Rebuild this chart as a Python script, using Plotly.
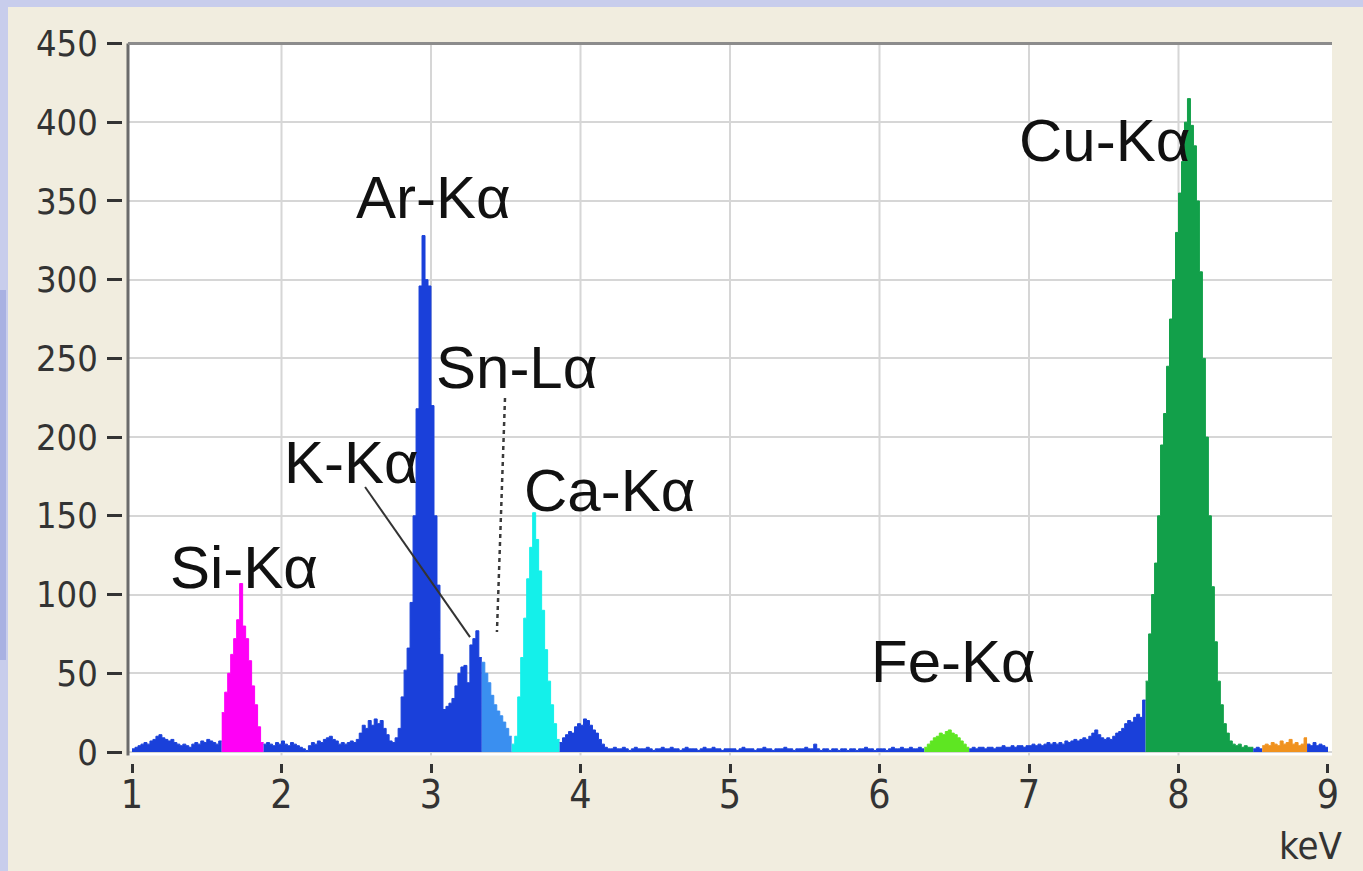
import plotly.graph_objects as go

# ---- spectrum: counts per 0.02 keV channel, starting at 1.00 keV ----
CHANNEL_START_KEV = 1.00
CHANNEL_WIDTH_KEV = 0.02

counts_1kev = [2, 3, 4, 5, 6, 5, 7, 8, 10, 11,
               9, 8, 7, 8, 6, 5, 4, 5, 4, 3,
               5, 6, 5, 7, 6, 8, 7, 6, 5, 7,
               25, 38, 50, 62, 72, 84, 107, 80, 72, 58,
               42, 30, 16, 6, 5, 6, 5, 4, 6, 5]
counts_2kev = [7, 5, 4, 6, 5, 4, 3, 2, 1, 4,
               6, 5, 7, 6, 8, 9, 10, 8, 7, 5,
               6, 5, 6, 7, 6, 8, 12, 17, 15, 20,
               17, 21, 18, 20, 15, 11, 7, 6, 9, 15,
               35, 52, 66, 95, 150, 218, 296, 328, 300, 296]
counts_3kev = [220, 150, 106, 62, 27, 29, 31, 34, 42, 50,
               54, 55, 44, 68, 72, 77, 60, 57, 50, 44,
               36, 30, 26, 23, 19, 15, 10, 5, 10, 35,
               60, 85, 110, 130, 152, 135, 115, 90, 65, 45,
               30, 18, 8, 6, 9, 11, 13, 12, 16, 18]
counts_4kev = [17, 21, 20, 17, 14, 12, 8, 5, 3, 2,
               2, 3, 2, 2, 3, 2, 1, 2, 3, 2,
               2, 2, 3, 2, 1, 2, 2, 3, 2, 2,
               3, 2, 2, 1, 2, 3, 2, 2, 2, 1,
               2, 3, 2, 2, 3, 2, 2, 1, 2, 2]
counts_5kev = [2, 2, 1, 2, 3, 2, 2, 2, 1, 2,
               2, 3, 2, 2, 1, 2, 2, 2, 3, 2,
               2, 1, 2, 2, 2, 3, 2, 2, 5, 2,
               1, 2, 2, 1, 2, 2, 1, 2, 2, 1,
               2, 2, 1, 2, 2, 3, 2, 2, 1, 2]
counts_6kev = [2, 2, 1, 2, 3, 2, 2, 3, 2, 2,
               3, 2, 2, 3, 2, 3, 5, 7, 9, 10,
               12, 11, 13, 14, 12, 11, 9, 7, 5, 3,
               2, 3, 2, 3, 3, 2, 3, 3, 2, 3,
               3, 4, 3, 3, 4, 3, 4, 4, 3, 4]
counts_7kev = [4, 5, 4, 5, 4, 5, 6, 5, 6, 5,
               6, 5, 7, 6, 7, 8, 7, 8, 9, 8,
               10, 12, 14, 11, 9, 8, 9, 8, 10, 12,
               13, 15, 18, 20, 19, 22, 24, 22, 33, 45,
               75, 100, 120, 150, 195, 215, 245, 275, 300, 330]
counts_8kev = [355, 375, 400, 415, 398, 385, 350, 305, 250, 200,
               150, 105, 70, 45, 30, 18, 12, 7, 5, 4,
               5, 3, 4, 3, 3, 2, 3, 2, 4, 5,
               4, 6, 5, 4, 7, 5, 6, 8, 5, 6,
               4, 5, 9, 5, 4, 6, 4, 5, 4, 3]

counts = (counts_1kev + counts_2kev + counts_3kev + counts_4kev
          + counts_5kev + counts_6kev + counts_7kev + counts_8kev)

# energy windows highlighted per element (start keV, end keV, key)
windows = [(1.00, 1.60, "bg"), (1.60, 1.88, "Si"), (1.88, 3.34, "bg"),
           (3.34, 3.54, "Sn"), (3.54, 3.86, "Ca"), (3.86, 6.30, "bg"),
           (6.30, 6.60, "Fe"), (6.60, 7.78, "bg"), (7.78, 8.50, "Cu"),
           (8.50, 8.56, "bg"), (8.56, 8.86, "esc"), (8.86, 9.00, "bg")]

# peak labels: text, keV, counts
peak_labels = [("Ar-Kα", 3.020, 352.5), ("Sn-Lα", 3.569, 244.5),
               ("K-Kα", 2.465, 183.6), ("Ca-Kα", 4.191, 165.8),
               ("Si-Kα", 1.749, 117.5), ("Fe-Kα", 6.498, 57.2),
               ("Cu-Kα", 7.508, 388.7)]

x_ticks = [1, 2, 3, 4, 5, 6, 7, 8, 9]
y_ticks = [0, 50, 100, 150, 200, 250, 300, 350, 400, 450]

colors = {"bg": "#1a40da", "Si": "#ff00f6", "Sn": "#3a8ff0",
          "Ca": "#14f0ea", "Fe": "#5ee622", "Cu": "#12a04a",
          "esc": "#f0921f"}

W, H = 1363, 871
X_RANGE = [0.9732, 9.0268]
fig = go.Figure()

for e0, e1, key in windows:
    i0 = round((e0 - CHANNEL_START_KEV) / CHANNEL_WIDTH_KEV)
    i1 = round((e1 - CHANNEL_START_KEV) / CHANNEL_WIDTH_KEV)
    xs = [CHANNEL_START_KEV + CHANNEL_WIDTH_KEV * i for i in range(i0, i1 + 1)]
    ys = counts[i0:i1] + [counts[i1 - 1]]
    fig.add_trace(go.Scatter(
        x=xs, y=ys, mode="lines", line_shape="hv",
        line=dict(color=colors[key], width=1),
        fill="tozeroy", fillcolor=colors[key],
        hoverinfo="skip", showlegend=False))

# empty trace that keeps the label-only axis alive
fig.add_trace(go.Scatter(x=[], y=[], xaxis="x2", yaxis="y",
                         showlegend=False, hoverinfo="skip"))

# plot-area geometry in pixels
left_px, right_px, top_px, bottom_px = 128, 1332, 43.5, 755.5
font_family = "Liberation Sans Narrow, DejaVu Sans Condensed, Liberation Sans, Arial"
y_tick_font = dict(family=font_family, size=36, color="#333333")
x_tick_font = dict(family=font_family, size=39, color="#333333")

fig.update_layout(
    width=W, height=H,
    margin=dict(l=0, r=0, t=0, b=0, pad=0, autoexpand=False),
    paper_bgcolor="#f1eddf",
    plot_bgcolor="#ffffff",
    showlegend=False,
    # tick marks, set a little below the plot area
    xaxis=dict(
        domain=[left_px / W, right_px / W], range=X_RANGE,
        anchor="free", position=(H - 763) / H, automargin=False,
        tickvals=x_ticks, showticklabels=False,
        ticks="outside", ticklen=9, tickwidth=3, tickcolor="#333333",
        showgrid=False, zeroline=False, showline=False,
    ),
    # tick labels only
    xaxis2=dict(
        domain=[left_px / W, right_px / W], range=X_RANGE,
        overlaying="x", anchor="free", position=(H - 768) / H,
        automargin=False,
        tickvals=x_ticks, ticktext=[str(v) for v in x_ticks],
        ticks="", tickfont=x_tick_font,
        showgrid=False, zeroline=False, showline=False,
    ),
    yaxis=dict(
        domain=[(H - bottom_px) / H, (H - top_px) / H],
        range=[-2.22, 450],
        anchor="free", position=122 / W, automargin=False,
        tickvals=y_ticks, ticktext=[str(v) for v in y_ticks],
        ticks="outside", ticklen=15, tickwidth=3, tickcolor="#333333",
        tickfont=y_tick_font, ticklabelstandoff=2,
        showgrid=True, gridcolor="#d6d6d6", gridwidth=2,
        zeroline=False, showline=False,
    ),
)

shapes = []
# lavender slide margins
shapes.append(dict(type="rect", xref="paper", yref="paper", x0=0, x1=1,
                   y0=(H - 7) / H, y1=1, fillcolor="#c8cdec", line_width=0,
                   layer="below"))
shapes.append(dict(type="rect", xref="paper", yref="paper", x0=0, x1=8 / W,
                   y0=0, y1=1, fillcolor="#c8cdec", line_width=0,
                   layer="below"))
shapes.append(dict(type="rect", xref="paper", yref="paper", x0=0, x1=6 / W,
                   y0=(H - 660) / H, y1=(H - 290) / H, fillcolor="#a9b1e2",
                   line_width=0, layer="below"))
# vertical grid lines
for v in x_ticks[1:-1]:
    shapes.append(dict(type="line", xref="x", yref="y domain", x0=v, x1=v,
                       y0=0, y1=1, line=dict(color="#d6d6d6", width=2),
                       layer="below"))
# frame: left axis and top border
shapes.append(dict(type="line", xref="paper", yref="paper",
                   x0=left_px / W, x1=left_px / W,
                   y0=(H - bottom_px) / H, y1=(H - top_px) / H,
                   line=dict(color="#6b6b6b", width=3)))
shapes.append(dict(type="line", xref="paper", yref="paper",
                   x0=left_px / W, x1=right_px / W,
                   y0=(H - top_px) / H, y1=(H - top_px) / H,
                   line=dict(color="#8c8c8c", width=3)))
# leader lines for K-Kα and Sn-Lα
shapes.append(dict(type="line", xref="x", yref="y", x0=2.559, y0=168.3,
                   x1=3.261, y1=73.0, line=dict(color="#333333", width=2)))
shapes.append(dict(type="line", xref="x", yref="y", x0=3.495, y0=224.8,
                   x1=3.441, y1=76.2,
                   line=dict(color="#3a3a3a", width=2.5, dash="4px,4px")))
fig.update_layout(shapes=shapes)

for text, kev, cnt in peak_labels:
    fig.add_annotation(x=kev, y=cnt, xref="x", yref="y", text=text,
                       showarrow=False, xanchor="center", yanchor="middle",
                       font=dict(family="Liberation Sans, Arial", size=60,
                                 color="#111111"))

fig.add_annotation(x=1310 / W, y=(H - 869) / H, xref="paper", yref="paper",
                   text="keV", showarrow=False, xanchor="center",
                   yanchor="bottom", borderpad=0,
                   font=dict(family=font_family, size=38, color="#333333"))

fig.write_html("out.html")
